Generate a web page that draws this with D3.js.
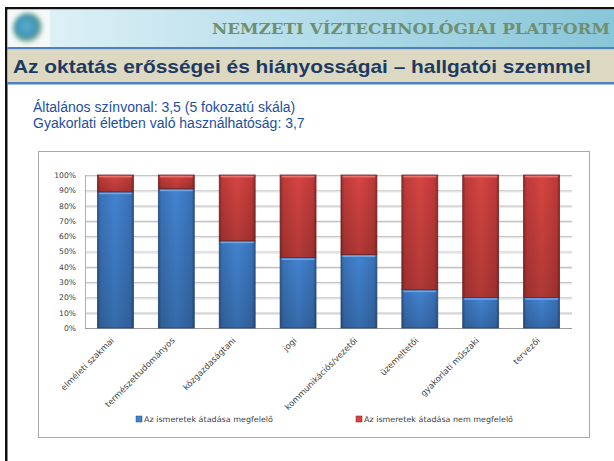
<!DOCTYPE html>
<html><head><meta charset="utf-8">
<script src="https://cdn.jsdelivr.net/npm/d3@7"></script>
<style>html,body{margin:0;padding:0;background:#fff;}svg{display:block;}</style>
</head><body>
<script>
const categories = ["elméleti szakmai","természettudományos","közgazdaságtani","jogi","kommunikációs/vezetői","üzemeltetői","gyakorlati műszaki","tervezői"];
const megfelelo = [89, 91, 57, 46, 48, 25, 20, 20];
const nemMegfelelo = [11, 9, 43, 54, 52, 75, 80, 80];
const seriesNames = ["Az ismeretek átadása megfelelő","Az ismeretek átadása nem megfelelő"];
const yTicks = [0,10,20,30,40,50,60,70,80,90,100];
const headerText = "NEMZETI VÍZTECHNOLÓGIAI PLATFORM";
const titleText = "Az oktatás erősségei és hiányosságai – hallgatói szemmel";
const subLines = ["Általános színvonal: 3,5 (5 fokozatú skála)","Gyakorlati életben való használhatóság: 3,7"];

const W=614,H=461;
const svg=d3.select("body").append("svg").attr("width",W).attr("height",H);
const defs=svg.append("defs");

const hg=defs.append("linearGradient").attr("id","hg").attr("x1",0).attr("x2",1).attr("y1",0).attr("y2",0);
hg.append("stop").attr("offset","0%").attr("stop-color","#e4f3f8");
hg.append("stop").attr("offset","45%").attr("stop-color","#b8dfeb");
hg.append("stop").attr("offset","100%").attr("stop-color","#88c6d9");
const rg=defs.append("radialGradient").attr("id","logo").attr("cx","45%").attr("cy","45%").attr("r","55%");
rg.append("stop").attr("offset","0%").attr("stop-color","#5fb0d0");
rg.append("stop").attr("offset","60%").attr("stop-color","#3f93b8");
rg.append("stop").attr("offset","85%").attr("stop-color","#6aa98a");
rg.append("stop").attr("offset","100%").attr("stop-color","#e8f0ee");
const blur=defs.append("filter").attr("id","blur");
blur.append("feGaussianBlur").attr("stdDeviation",2.2);

function barGrad(id,c1,c2,c3){
  const g=defs.append("linearGradient").attr("id",id).attr("x1",0).attr("x2",1).attr("y1",0).attr("y2",0);
  g.append("stop").attr("offset","0%").attr("stop-color",c3);
  g.append("stop").attr("offset","8%").attr("stop-color",c2);
  g.append("stop").attr("offset","50%").attr("stop-color",c1);
  g.append("stop").attr("offset","92%").attr("stop-color",c2);
  g.append("stop").attr("offset","100%").attr("stop-color",c3);
}
barGrad("gb","#4283d0","#3a72b8","#2b5690");
barGrad("gr","#d64542","#be3a38","#8e2a28");
const vb=defs.append("linearGradient").attr("id","vshade").attr("x1",0).attr("x2",0).attr("y1",0).attr("y2",1);
vb.append("stop").attr("offset","0%").attr("stop-color","#000").attr("stop-opacity",0);
vb.append("stop").attr("offset","100%").attr("stop-color","#000").attr("stop-opacity",0.18);

// frame
svg.append("rect").attr("x",5).attr("y",7).attr("width",W-5).attr("height",2.5).attr("fill","#111");
svg.append("rect").attr("x",5).attr("y",7).attr("width",2.5).attr("height",H-7).attr("fill","#111");
svg.append("rect").attr("x",7.5).attr("y",9.5).attr("width",W-7.5).attr("height",38).attr("fill","url(#hg)");
svg.append("rect").attr("x",8).attr("y",10).attr("width",42).attr("height",37).attr("fill","#f4f8f8");
svg.append("circle").attr("cx",28).attr("cy",28).attr("r",15).attr("fill","url(#logo)").attr("filter","url(#blur)");
svg.append("rect").attr("x",7.5).attr("y",47).attr("width",W-7.5).attr("height",2.5).attr("fill","#4f81bd");
svg.append("rect").attr("x",7.5).attr("y",49.5).attr("width",W-7.5).attr("height",32.5).attr("fill","#ddd8c2");
svg.append("rect").attr("x",7.5).attr("y",82).attr("width",W-7.5).attr("height",2.5).attr("fill","#4f81bd");

svg.append("text").attr("x",610).attr("y",34).attr("text-anchor","end")
  .attr("font-family","DejaVu Serif").attr("font-weight","bold").attr("font-size",15)
  .attr("fill","#6f8f70").attr("textLength",398).attr("lengthAdjust","spacingAndGlyphs").text(headerText);
svg.append("text").attr("x",13).attr("y",72.5)
  .attr("font-family","Liberation Sans, Arial").attr("font-weight","bold").attr("font-size",19)
  .attr("fill","#1f3a5f").attr("textLength",578).attr("lengthAdjust","spacingAndGlyphs").text(titleText);
svg.selectAll("text.sub").data(subLines).join("text").attr("class","sub")
  .attr("x",33).attr("y",(d,i)=>111.5+i*16)
  .attr("font-family","Liberation Sans, Arial").attr("font-size",14)
  .attr("fill","#1d4f9c").text(d=>d);

// chart box
svg.append("rect").attr("x",38.5).attr("y",151.5).attr("width",551).attr("height",286)
  .attr("fill","#fff").attr("stroke","#a8a8a8").attr("stroke-width",1);

const m={l:85,r:572,t:175,b:328};
const x=d3.scaleBand().domain(categories).range([m.l,m.r]).paddingInner(0.41).paddingOuter(0.205);
const y=d3.scaleLinear().domain([0,100]).range([m.b,m.t]);

const g=svg.append("g");
g.selectAll("line.grid").data(yTicks).join("line").attr("class","grid")
  .attr("x1",m.l).attr("x2",m.r).attr("y1",d=>y(d)+0.5).attr("y2",d=>y(d)+0.5)
  .attr("stroke",d=>d===0?"#9a9a9a":"#c4c4c4").attr("stroke-width",1.2);
g.selectAll("line.grid2").data(yTicks.filter(d=>d>0)).join("line").attr("class","grid2")
  .attr("x1",m.l).attr("x2",m.r).attr("y1",d=>y(d)+1.7).attr("y2",d=>y(d)+1.7)
  .attr("stroke","#e6e6e6").attr("stroke-width",1);
g.append("line").attr("x1",m.l+0.5).attr("x2",m.l+0.5).attr("y1",m.t).attr("y2",m.b).attr("stroke","#b0b0b0");

const yAxis=d3.axisLeft(y).tickValues(yTicks).tickFormat(d=>d+"%").tickSize(0).tickPadding(9);
const ya=svg.append("g").attr("transform",`translate(${m.l},0)`).call(yAxis);
ya.select(".domain").remove();
ya.selectAll("text").attr("font-family","DejaVu Sans").attr("font-size",7.6).attr("fill","#404040");

const rows=categories.map((c,i)=>({c,a:megfelelo[i],b:nemMegfelelo[i]}));
const stack=d3.stack().keys(["a","b"])(rows);
const fills=["url(#gb)","url(#gr)"];
const strokes=["#2a4c7c","#7a2422"];
const hl=["#6ea6e8","#ec7370"];
stack.forEach((s,si)=>{
  const gg=svg.append("g");
  gg.selectAll("rect.bar").data(s).join("rect").attr("class","bar")
    .attr("x",d=>x(d.data.c)).attr("width",x.bandwidth())
    .attr("y",d=>y(d[1])).attr("height",d=>y(d[0])-y(d[1]))
    .attr("fill",fills[si]).attr("stroke",strokes[si]).attr("stroke-width",0.8);
  gg.selectAll("rect.sh").data(s).join("rect").attr("class","sh")
    .attr("x",d=>x(d.data.c)).attr("width",x.bandwidth())
    .attr("y",d=>y(d[1])).attr("height",d=>y(d[0])-y(d[1]))
    .attr("fill","url(#vshade)");
  gg.selectAll("rect.hl").data(s).join("rect").attr("class","hl")
    .attr("x",d=>x(d.data.c)+1.5).attr("width",x.bandwidth()-3)
    .attr("y",d=>y(d[1])+0.8).attr("height",1.6)
    .attr("fill",hl[si]);
});

const xa=svg.append("g").attr("transform",`translate(0,${m.b})`).call(d3.axisBottom(x).tickSize(0).tickPadding(0));
xa.select(".domain").remove();
xa.selectAll("text").attr("font-family","DejaVu Sans").attr("font-size",8.4).attr("fill","#404040")
  .attr("text-anchor","end").attr("dy",0)
  .attr("transform","translate(-1,13) rotate(-45)");

// legend
const lg=svg.append("g");
const lx=[136,356];
const lw=[129,149];
seriesNames.forEach((n,i)=>{
  lg.append("rect").attr("x",lx[i]).attr("y",416).attr("width",6).attr("height",6)
    .attr("fill",i===0?"#4283d0":"#d64542").attr("stroke",strokes[i]).attr("stroke-width",0.5);
  lg.append("text").attr("x",lx[i]+8).attr("y",422).attr("font-family","DejaVu Sans").attr("font-size",7.8)
    .attr("fill","#404040").attr("textLength",lw[i]).attr("lengthAdjust","spacingAndGlyphs").text(n);
});
</script>
</body></html>
